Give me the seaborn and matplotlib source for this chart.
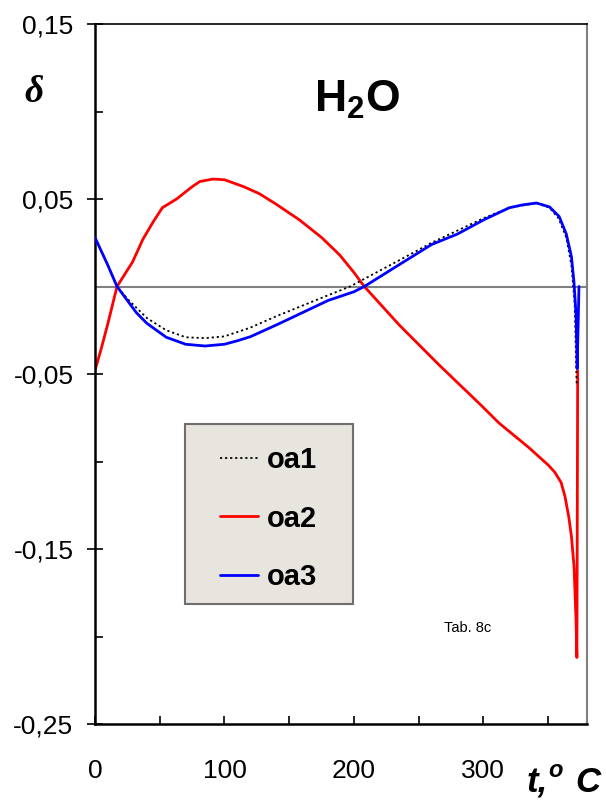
import matplotlib
matplotlib.use("Agg")
import matplotlib.pyplot as plt
import seaborn as sns
import pandas as pd
from matplotlib.patches import Rectangle
from matplotlib.lines import Line2D

# ---- data ----
t_oa1 = [0, 10, 17, 25, 40, 55, 70, 85, 100, 110, 120, 140, 160, 180, 197, 235, 260, 280, 300, 320,
         341, 351, 358, 364, 368, 370.5, 372]
d_oa1 = [0.028, 0.012, 0.0, -0.007, -0.018, -0.025, -0.029, -0.0295, -0.0285, -0.026, -0.0235, -0.017,
         -0.011, -0.005, 0.0, 0.015, 0.025, 0.032, 0.039, 0.045, 0.0477, 0.045, 0.039, 0.028, 0.012,
         -0.010, -0.056]

t_oa2 = [0, 5, 10, 17, 23, 29, 37, 45, 52, 63, 75, 81, 91, 100, 115, 127, 140, 158, 175, 189, 200, 208,
         235, 266, 297, 312, 335, 350, 355, 360, 363, 366, 368, 370, 371.5, 372.2, 372.8]
d_oa2 = [-0.048, -0.035, -0.021, 0.0, 0.007, 0.014, 0.027, 0.037, 0.045, 0.050, 0.057, 0.060, 0.0614,
         0.061, 0.057, 0.053, 0.047, 0.038, 0.028, 0.018, 0.008, 0.0, -0.022, -0.045, -0.067, -0.078,
         -0.092, -0.102, -0.106, -0.112, -0.120, -0.132, -0.143, -0.160, -0.190, -0.212, -0.048]

t_oa3 = [0, 5, 10, 17, 25, 32, 40, 55, 70, 85, 100, 110, 120, 140, 160, 180, 200, 208, 235, 260, 280,
         300, 320, 330, 341, 351, 358.5, 364, 368, 370, 371.6, 372.4, 373.8]
d_oa3 = [0.028, 0.020, 0.012, 0.0, -0.008, -0.015, -0.021, -0.029, -0.033, -0.034, -0.033, -0.031,
         -0.0287, -0.022, -0.015, -0.008, -0.003, 0.0, 0.0125, 0.024, 0.030, 0.038, 0.045, 0.0466, 0.0477,
         0.0455, 0.040, 0.030, 0.017, 0.002, -0.017, -0.047, 0.0]

series_names = ["oa1", "oa2", "oa3"]
x_ticks = [0, 100, 200, 300]
x_tick_labels = ["0", "100", "200", "300"]
y_ticks = [-0.25, -0.15, -0.05, 0.05, 0.15]
y_tick_labels = ["-0,25", "-0,15", "-0,05", "0,05", "0,15"]

df1 = pd.DataFrame({"t": t_oa1, "d": d_oa1})
df2 = pd.DataFrame({"t": t_oa2, "d": d_oa2})
df3 = pd.DataFrame({"t": t_oa3, "d": d_oa3})

sns.set_style("white")
plt.rcParams["font.family"] = ["Liberation Sans", "DejaVu Sans"]
plt.rcParams["text.color"] = "black"
plt.rcParams["xtick.color"] = "black"
plt.rcParams["ytick.color"] = "black"
plt.rcParams["axes.labelcolor"] = "black"
plt.rcParams["mathtext.fontset"] = "custom"
plt.rcParams["mathtext.bf"] = "Liberation Sans:bold"
plt.rcParams["mathtext.rm"] = "Liberation Sans"

W, H = 606, 801
fig = plt.figure(figsize=(W / 100, H / 100), dpi=100)
ax = fig.add_axes([95 / W, 1 - 724 / H, 492 / W, 700 / H])

ax.axhline(0, color="#808080", lw=1.5, zorder=1)

sns.lineplot(data=df2, x="t", y="d", ax=ax, color="#ff0000", lw=2.0, sort=False, estimator=None, zorder=2)
sns.lineplot(data=df1, x="t", y="d", ax=ax, color="black", lw=1.3, ls=(0, (1.2, 1.6)), sort=False,
             estimator=None, zorder=3)
sns.lineplot(data=df3, x="t", y="d", ax=ax, color="#0000ff", lw=2.0, sort=False, estimator=None, zorder=4)

ax.set_xlim(0, 380)
ax.set_ylim(-0.25, 0.15)
ax.set_xlabel("")
ax.set_ylabel("")

ax.set_xticks(x_ticks)
ax.set_xticklabels(x_tick_labels, fontsize=19)
ax.set_xticks([50, 150, 250, 350], minor=True)
ax.set_yticks(y_ticks)
ax.set_yticklabels(y_tick_labels, fontsize=19)
ax.set_yticks([-0.2, -0.1, 0.0, 0.1], minor=True)

ax.tick_params(axis="y", which="major", direction="inout", length=11, width=1.2, pad=10, left=True)
ax.tick_params(axis="y", which="minor", direction="in", length=6, width=1.2, left=True)
ax.tick_params(axis="x", which="major", direction="in", length=6, width=1.2, pad=25, bottom=True)
ax.tick_params(axis="x", which="minor", direction="in", length=6, width=1.2, bottom=True)

for side in ["left", "bottom", "top"]:
    ax.spines[side].set_color("black")
    ax.spines[side].set_linewidth(1.8)
ax.spines["right"].set_color("#808080")
ax.spines["right"].set_linewidth(1.5)
ax.spines["top"].set_linewidth(1.2)

# legend box
ax.add_patch(Rectangle(((185 - 95) / 492, (724 - 604) / 700), (353 - 185) / 492, (604 - 424) / 700,
                       transform=ax.transAxes, facecolor="#e8e4de", edgecolor="#6e6e6e", lw=1.5, zorder=5))
handles = [Line2D([], [], color="black", lw=1.3, ls=(0, (1.2, 1.6))),
           Line2D([], [], color="#ff0000", lw=2.0),
           Line2D([], [], color="#0000ff", lw=2.0)]
leg = ax.legend(handles, series_names, loc="upper left",
                bbox_to_anchor=((220 - 95) / 492, (724 - 446) / 700), frameon=False,
                prop={"weight": "bold", "size": 21}, handlelength=1.3, handletextpad=0.3,
                labelspacing=1.05, borderpad=0, borderaxespad=0)
leg.set_zorder(6)

# texts
fig.text(357 / W, 1 - 112 / H, "H$_{\\mathbf{2}}$O", ha="center", va="baseline", fontsize=32,
         fontweight="bold")
fig.text(34 / W, 1 - 93 / H, "\u03b4", ha="center", va="center", fontsize=27, fontweight="bold",
         fontstyle="italic", family=["Liberation Serif", "DejaVu Serif"])
fig.text(527 / W, 1 - 792 / H, "t,", ha="left", va="baseline", fontsize=25, fontweight="bold",
         fontstyle="italic")
fig.text(548 / W, 1 - 777 / H, "o", ha="left", va="baseline", fontsize=17, fontweight="bold",
         fontstyle="italic")
fig.text(575 / W, 1 - 792 / H, "C", ha="left", va="baseline", fontsize=25, fontweight="bold",
         fontstyle="italic")
fig.text(468 / W, 1 - 628 / H, "Tab. 8c", ha="center", va="center", fontsize=10.5)

fig.savefig("out.png", dpi=100)
